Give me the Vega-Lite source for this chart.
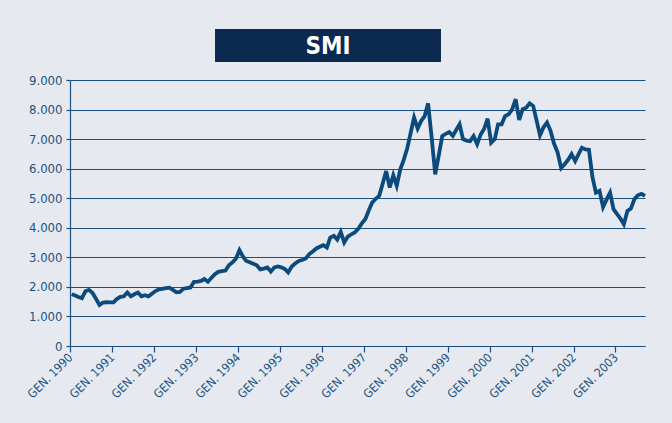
{
  "$schema": "https://vega.github.io/schema/vega-lite/v6.json",
  "background": "#E6E9EF",
  "padding": {"left": 25, "top": 29, "right": 40, "bottom": 60},
  "autosize": {"type": "pad"},
  "spacing": 12,
  "vconcat": [
    {
      "spacing": 0,
      "hconcat": [
        {
          "width": 145,
          "height": 33,
          "view": {"stroke": null, "fill": null},
          "data": {"values": []},
          "mark": {"type": "text"},
          "encoding": {}
        },
        {
          "width": 226,
          "height": 33,
          "view": {"fill": "#0C2A4F", "stroke": null},
          "data": {"values": [{"label": "SMI"}]},
          "mark": {"type": "text", "font": "DejaVu Sans Condensed", "fontSize": 24, "fontWeight": "bold", "color": "#FFFFFF", "baseline": "middle", "align": "center", "dy": 1},
          "encoding": {"text": {"field": "label"}}
        }
      ]
    },
    {
      "width": 575,
      "height": 266,
      "view": {"stroke": null},
      "data": {"values": [
        {"d":"1990-01-15","v":1750},{"d":"1990-02-15","v":1710},{"d":"1990-03-15","v":1660},{"d":"1990-04-15","v":1620},{"d":"1990-05-15","v":1850},{"d":"1990-06-15","v":1900},{"d":"1990-07-15","v":1800},{"d":"1990-08-15","v":1600},{"d":"1990-09-15","v":1390},{"d":"1990-10-15","v":1470},{"d":"1990-11-15","v":1480},{"d":"1990-12-15","v":1475},
        {"d":"1991-01-15","v":1475},{"d":"1991-02-15","v":1600},{"d":"1991-03-15","v":1660},{"d":"1991-04-15","v":1680},{"d":"1991-05-15","v":1810},{"d":"1991-06-15","v":1680},{"d":"1991-07-15","v":1750},{"d":"1991-08-15","v":1810},{"d":"1991-09-15","v":1680},{"d":"1991-10-15","v":1720},{"d":"1991-11-15","v":1680},{"d":"1991-12-15","v":1770},
        {"d":"1992-01-15","v":1860},{"d":"1992-02-15","v":1920},{"d":"1992-03-15","v":1930},{"d":"1992-04-15","v":1960},{"d":"1992-05-15","v":1975},{"d":"1992-06-15","v":1900},{"d":"1992-07-15","v":1820},{"d":"1992-08-15","v":1830},{"d":"1992-09-15","v":1940},{"d":"1992-10-15","v":1960},{"d":"1992-11-15","v":1980},{"d":"1992-12-15","v":2170},
        {"d":"1993-01-15","v":2180},{"d":"1993-02-15","v":2200},{"d":"1993-03-15","v":2265},{"d":"1993-04-15","v":2175},{"d":"1993-05-15","v":2300},{"d":"1993-06-15","v":2430},{"d":"1993-07-15","v":2510},{"d":"1993-08-15","v":2530},{"d":"1993-09-15","v":2550},{"d":"1993-10-15","v":2730},{"d":"1993-11-15","v":2830},{"d":"1993-12-15","v":2950},
        {"d":"1994-01-15","v":3240},{"d":"1994-02-15","v":3020},{"d":"1994-03-15","v":2880},{"d":"1994-04-15","v":2830},{"d":"1994-05-15","v":2780},{"d":"1994-06-15","v":2730},{"d":"1994-07-15","v":2590},{"d":"1994-08-15","v":2620},{"d":"1994-09-15","v":2660},{"d":"1994-10-15","v":2520},{"d":"1994-11-15","v":2660},{"d":"1994-12-15","v":2690},
        {"d":"1995-01-15","v":2660},{"d":"1995-02-15","v":2600},{"d":"1995-03-15","v":2490},{"d":"1995-04-15","v":2690},{"d":"1995-05-15","v":2790},{"d":"1995-06-15","v":2880},{"d":"1995-07-15","v":2910},{"d":"1995-08-15","v":2960},{"d":"1995-09-15","v":3110},{"d":"1995-10-15","v":3200},{"d":"1995-11-15","v":3300},{"d":"1995-12-15","v":3360},
        {"d":"1996-01-15","v":3410},{"d":"1996-02-15","v":3330},{"d":"1996-03-15","v":3670},{"d":"1996-04-15","v":3730},{"d":"1996-05-15","v":3600},{"d":"1996-06-15","v":3860},{"d":"1996-07-15","v":3500},{"d":"1996-08-15","v":3700},{"d":"1996-09-15","v":3780},{"d":"1996-10-15","v":3840},{"d":"1996-11-15","v":3970},{"d":"1996-12-15","v":4150},
        {"d":"1997-01-15","v":4300},{"d":"1997-02-15","v":4600},{"d":"1997-03-15","v":4850},{"d":"1997-04-15","v":4980},{"d":"1997-05-15","v":5080},{"d":"1997-06-15","v":5500},{"d":"1997-07-15","v":5920},{"d":"1997-08-15","v":5360},{"d":"1997-09-15","v":5780},{"d":"1997-10-15","v":5420},{"d":"1997-11-15","v":5980},{"d":"1997-12-15","v":6300},
        {"d":"1998-01-15","v":6700},{"d":"1998-02-15","v":7240},{"d":"1998-03-15","v":7730},{"d":"1998-04-15","v":7360},{"d":"1998-05-15","v":7610},{"d":"1998-06-15","v":7780},{"d":"1998-07-15","v":8210},{"d":"1998-08-15","v":7050},{"d":"1998-09-15","v":5810},{"d":"1998-10-15","v":6430},{"d":"1998-11-15","v":7100},{"d":"1998-12-15","v":7180},
        {"d":"1999-01-15","v":7240},{"d":"1999-02-15","v":7110},{"d":"1999-03-15","v":7300},{"d":"1999-04-15","v":7500},{"d":"1999-05-15","v":7000},{"d":"1999-06-15","v":6950},{"d":"1999-07-15","v":6930},{"d":"1999-08-15","v":7100},{"d":"1999-09-15","v":6830},{"d":"1999-10-15","v":7150},{"d":"1999-11-15","v":7350},{"d":"1999-12-15","v":7690},
        {"d":"2000-01-15","v":6880},{"d":"2000-02-15","v":7000},{"d":"2000-03-15","v":7500},{"d":"2000-04-15","v":7500},{"d":"2000-05-15","v":7780},{"d":"2000-06-15","v":7840},{"d":"2000-07-15","v":8000},{"d":"2000-08-15","v":8350},{"d":"2000-09-15","v":7650},{"d":"2000-10-15","v":8010},{"d":"2000-11-15","v":8060},{"d":"2000-12-15","v":8210},
        {"d":"2001-01-15","v":8120},{"d":"2001-02-15","v":7600},{"d":"2001-03-15","v":7130},{"d":"2001-04-15","v":7400},{"d":"2001-05-15","v":7560},{"d":"2001-06-15","v":7280},{"d":"2001-07-15","v":6850},{"d":"2001-08-15","v":6550},{"d":"2001-09-15","v":6020},{"d":"2001-10-15","v":6150},{"d":"2001-11-15","v":6300},{"d":"2001-12-15","v":6490},
        {"d":"2002-01-15","v":6260},{"d":"2002-02-15","v":6500},{"d":"2002-03-15","v":6710},{"d":"2002-04-15","v":6650},{"d":"2002-05-15","v":6640},{"d":"2002-06-15","v":5700},{"d":"2002-07-15","v":5190},{"d":"2002-08-15","v":5250},{"d":"2002-09-15","v":4700},{"d":"2002-10-15","v":4950},{"d":"2002-11-15","v":5190},{"d":"2002-12-15","v":4630},
        {"d":"2003-01-15","v":4460},{"d":"2003-02-15","v":4300},{"d":"2003-03-15","v":4120},{"d":"2003-04-15","v":4570},{"d":"2003-05-15","v":4650},{"d":"2003-06-15","v":4970},{"d":"2003-07-15","v":5100},{"d":"2003-08-15","v":5150},{"d":"2003-09-15","v":5080}
      ]},
      "mark": {"type": "line", "color": "#0B4A7C", "strokeWidth": 3.8, "strokeJoin": "miter", "clip": false},
      "encoding": {
        "x": {
          "field": "d", "type": "temporal",
          "scale": {"type": "utc", "domain": [{"year": 1990, "month": 1, "date": 1, "utc": true}, {"year": 2003, "month": 9, "date": 15, "utc": true}]},
          "axis": {
            "title": null, "grid": false,
            "tickCount": {"interval": "year", "step": 1},
            "labelExpr": "'GEN. ' + utcFormat(datum.value, '%Y')",
            "labelAngle": -45, "labelAlign": "right", "labelBaseline": "middle",
            "labelFontSize": 12,
            "tickSize": 6, "labelPadding": 3, "labelOverlap": false, "labelFlush": false
          }
        },
        "y": {
          "field": "v", "type": "quantitative",
          "scale": {"domain": [0, 9000], "nice": false},
          "axis": {
            "title": null, "grid": true,
            "values": [0, 1000, 2000, 3000, 4000, 5000, 6000, 7000, 8000, 9000],
            "labelExpr": "replace(format(datum.value, ','), ',', '.')",
            "labelFontSize": 13,
            "tickSize": 4, "labelPadding": 4
          }
        }
      }
    }
  ],
  "config": {
    "axis": {
      "domainColor": "#1C4F80", "domainWidth": 1.2,
      "tickColor": "#1C4F80", "tickWidth": 1.2,
      "gridColor": "#1C4F80", "gridWidth": 1, "gridOpacity": 1,
      "labelColor": "#1C5283",
      "labelFont": "DejaVu Sans Condensed"
    }
  }
}
